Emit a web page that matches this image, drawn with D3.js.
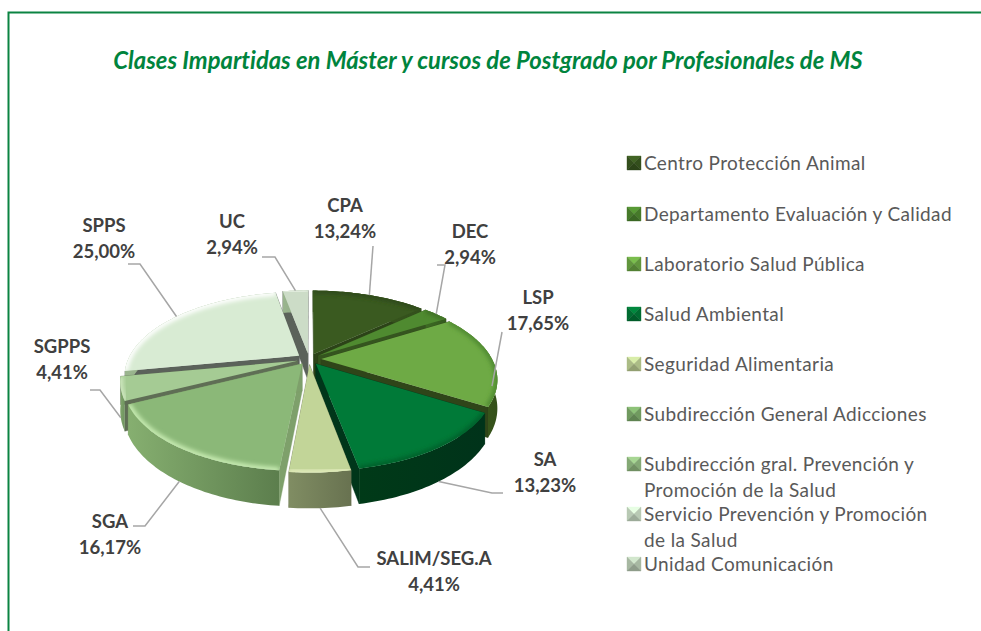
<!DOCTYPE html>
<html><head><meta charset="utf-8">
<script src="https://cdn.jsdelivr.net/npm/d3@7/dist/d3.min.js"></script>
<style>html,body{margin:0;padding:0;background:#fff}svg{display:block}text{font-family:Lato,"Open Sans",sans-serif;font-variant-ligatures:none}</style>
</head><body><svg id="c" width="981" height="631"></svg>
<script>
const titleText = "Clases Impartidas en Máster y cursos de Postgrado por Profesionales de MS";
const shortNames = ["CPA","DEC","LSP","SA","SALIM/SEG.A","SGA","SGPPS","SPPS","UC"];
const legendNames = ["Centro Protección Animal","Departamento Evaluación y Calidad","Laboratorio Salud Pública","Salud Ambiental","Seguridad Alimentaria","Subdirección General Adicciones","Subdirección gral. Prevención y\nPromoción de la Salud","Servicio Prevención y Promoción\nde la Salud","Unidad Comunicación"];
const values = [13.24,2.94,17.65,13.23,4.41,16.17,4.41,25.00,2.94];
const topColors = ["#3a5a20","#4f8a30","#6eaa45","#007a38","#c2d598","#8bb878","#a5cb94","#d8ebd3","#ccdcc7"];
const rimColors = ["#2f4a1a","#3f7026","#4f8a30","#00602c","#e2ecbc","#c8ecb2","#cfe8c0","#ffffff","#e4eee0"];
const sideWallColors = ["#2c4318","#35551f","#2f4519","#00361a","#6f7a55","#7ea06b","#5f6e55","#5b625a","#5b625a"];
const outerLeft = ["#3c5a1f","#3c6a22","#44661f","#003a18","#808d63","#86af70","#7fa56a","#9ab58e","#9ab58e"];
const outerRight = ["#33501c","#355a1f","#34501a","#00331a","#687250","#5c7e4d","#6f9460","#8aa582","#8aa582"];
const legendMarkers = ["#3a5a20","#4f8a30","#6eaa45","#007a38","#c2d598","#7fae6c","#96c084","#d0e4cc","#bdd0b8"];

// chart furniture (layout, not data)
const W=981,H=631;
const CX=309,CY=359,RX=171,RY=80,PERSP=0.23,DEPTH=27,EXPLODE=0.07;
// label block centre + elbow of each leader, in reference order
const labelLayout = [
 {x:345,y:206,elbow:[[373,246]]},
 {x:470,y:232,elbow:[[445,265],[437,265]]},
 {x:538,y:298,elbow:[[502,332]]},
 {x:545,y:460,elbow:[[492,493],[503,493]]},
 {x:434,y:559,elbow:[[358,567],[370,567]]},
 {x:110,y:522,elbow:[[145,526],[133,526]]},
 {x:62,y:347,elbow:[[100,390],[90,390]]},
 {x:104,y:226,elbow:[[140,264],[128,264]]},
 {x:232,y:222,elbow:[[275,257],[262,257]]}
];
const legendX=644, legendYs=[163,214,264,314,364,414,464,514,564];

const svg=d3.select("#c");
const defs=svg.append("defs");
defs.append("filter").attr("id","soft").attr("x","-10%").attr("y","-10%").attr("width","120%").attr("height","120%")
  .append("feGaussianBlur").attr("stdDeviation",2);

svg.append("path").attr("d",`M${W},12.5H8.5V${H}`).attr("fill","none").attr("stroke","#0b8442").attr("stroke-width",2);
svg.append("text").attr("x",488).attr("y",69).attr("text-anchor","middle")
  .attr("font-size",23.8).attr("font-weight",700).attr("font-style","italic").attr("fill","#00843d").text(titleText);

// perspective projection of the unit disc plane
function proj(u,v,z){
  const f=1/(1-PERSP*v);
  return [CX+RX*u*f, CY+RY*v*f+(z?DEPTH*f:0)];
}
const pie=d3.pie().sort(null).startAngle(0).endAngle(2*Math.PI).value(d=>d);
const arcs=pie(values).map((a,i)=>{
  const mid=(a.startAngle+a.endAngle)/2;
  return {i,a0:a.startAngle,a1:a.endAngle,mid,ox:EXPLODE*Math.sin(mid),oy:-EXPLODE*Math.cos(mid)};
});
const pt=(s,ang,r,z)=>proj(s.ox+r*Math.sin(ang),s.oy-r*Math.cos(ang),z);
const line=d3.line();
const samples=s=>{const n=Math.max(6,Math.ceil((s.a1-s.a0)/0.02));return d3.range(n+1).map(k=>s.a0+(s.a1-s.a0)*k/n);};
function topPath(s){
  return line([pt(s,0,0,false),...samples(s).map(a=>pt(s,a,1,false))])+"Z";
}
arcs.forEach(s=>{
  const g=defs.append("linearGradient").attr("id","og"+s.i);
  g.append("stop").attr("offset",0).attr("stop-color",outerLeft[s.i]);
  g.append("stop").attr("offset",1).attr("stop-color",outerRight[s.i]);
  defs.append("clipPath").attr("id","cp"+s.i).append("path").attr("d",topPath(s));
});
const order=arcs.slice().sort((p,q)=>(-Math.cos(p.mid))-(-Math.cos(q.mid)));
const pieG=svg.append("g");
order.forEach(s=>{
  const g=pieG.append("g");
  [s.a0,s.a1].forEach(a=>{
    g.append("path").attr("fill",sideWallColors[s.i]).attr("stroke",sideWallColors[s.i]).attr("stroke-width",.4)
     .attr("d",line([pt(s,0,0,false),pt(s,a,1,false),pt(s,a,1,true),pt(s,0,0,true)])+"Z");
  });
  const as=samples(s);
  g.append("path").attr("fill",`url(#og${s.i})`)
   .attr("d",line([...as.map(a=>pt(s,a,1,false)),...as.slice().reverse().map(a=>pt(s,a,1,true))])+"Z");
  g.append("path").attr("fill",topColors[s.i]).attr("d",topPath(s));
  g.append("g").attr("clip-path",`url(#cp${s.i})`).append("path")
   .attr("fill","none").attr("stroke",rimColors[s.i]).attr("stroke-width",6).attr("filter","url(#soft)")
   .attr("d",line(as.map(a=>pt(s,a,1,false))));
});

// leaders + labels
const fmt=v=>v.toFixed(2).replace(".",",")+"%";
arcs.forEach(s=>{
  const front=-Math.cos(s.mid)>0;
  const start=pt(s,s.mid,1,front);
  const L=labelLayout[s.i];
  svg.append("path").attr("fill","none").attr("stroke","#a6a6a6").attr("stroke-width",1.5)
     .attr("d",line([start,...L.elbow]));
  const t=svg.append("text").attr("text-anchor","middle").attr("font-size",18.5).attr("font-weight",700).attr("fill","#404040");
  t.append("tspan").attr("x",L.x).attr("y",L.y+6).text(shortNames[s.i]);
  t.append("tspan").attr("x",L.x).attr("y",L.y+32).text(fmt(values[s.i]));
});

// legend
legendNames.forEach((n,i)=>{
  const y=legendYs[i],x0=627,x1=641,y0=y-7,y1=y+7,mx=(x0+x1)/2,my=y;
  const c=d3.color(legendMarkers[i]);
  const tri=(pts,col)=>svg.append("path").attr("fill",col).attr("stroke",col).attr("stroke-width",.4).attr("d",line(pts)+"Z");
  tri([[x0,y0],[x1,y0],[mx,my]],c.brighter(.3));
  tri([[x1,y0],[x1,y1],[mx,my]],c.darker(.35));
  tri([[x0,y0],[x0,y1],[mx,my]],c.darker(.35));
  tri([[x0,y1],[x1,y1],[mx,my]],c.darker(.8));
  n.split("\n").forEach((ln,k)=>{
    svg.append("text").attr("x",legendX).attr("y",y+7+k*26).attr("font-size",19).attr("fill","#595959").attr("letter-spacing",.37).text(ln);
  });
});
</script></body></html>
